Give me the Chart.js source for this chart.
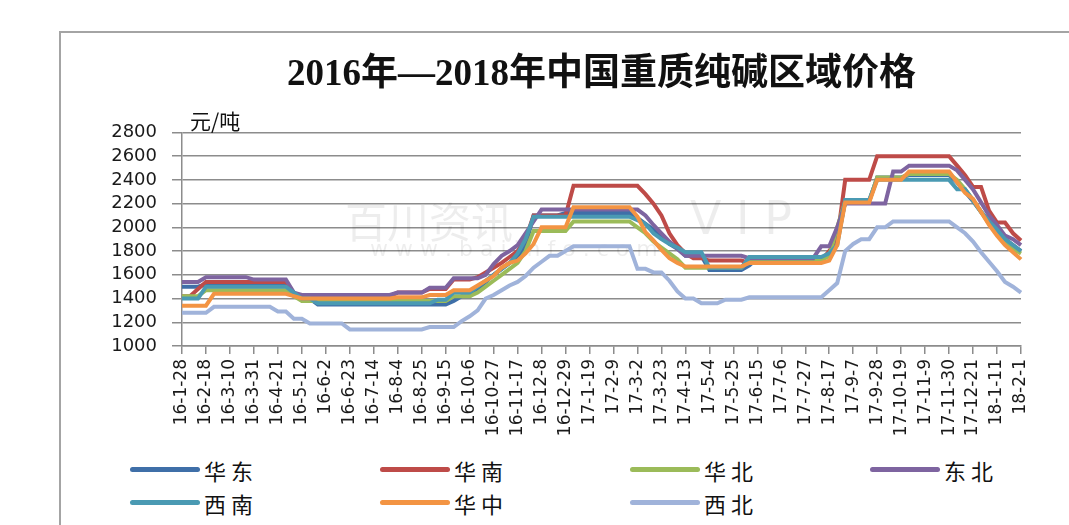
<!DOCTYPE html>
<html>
<head>
<meta charset="utf-8">
<script src="https://cdn.jsdelivr.net/npm/chart.js@4.4.0/dist/chart.umd.min.js"></script>
<style>
  html, body { margin: 0; padding: 0; background: #fff; }
  body { width: 1069px; height: 525px; position: relative; overflow: hidden; }
  .frame {
    position: absolute; left: 59px; top: 31px; width: 1020px; height: 500px;
    border-top: 2px solid #a4a4a4; border-left: 2px solid #a4a4a4;
  }
  #chart { position: absolute; left: 0; top: 0; }
  #legend {
    position: absolute; left: 130px; top: 456px;
    display: grid; grid-template-columns: 250px 250px 240px 200px; row-gap: 6px;
    font-family: "Noto Sans CJK SC", sans-serif; font-size: 22px; color: #111;
  }
  .item { display: flex; align-items: center; height: 27px; }
  .swatch { width: 70px; height: 5px; border-radius: 3px; margin-right: 4px; }
  .label { letter-spacing: 5px; }
</style>
</head>
<body>
<div class="frame"></div>
<canvas id="chart" width="1069" height="445"></canvas>
<div id="legend"></div>
<script>
// weekly prices, 16-1-28 .. 18-2-1 (元/吨)
const tickLabels = ['16-1-28', '16-2-18', '16-3-10', '16-3-31', '16-4-21', '16-5-12', '16-6-2', '16-6-23',
    '16-7-14', '16-8-4', '16-8-25', '16-9-15', '16-10-6', '16-10-27', '16-11-17', '16-12-8', '16-12-29',
    '17-1-19', '17-2-9', '17-3-2', '17-3-23', '17-4-13', '17-5-4', '17-5-25', '17-6-15', '17-7-6',
    '17-7-27', '17-8-17', '17-9-7', '17-9-28', '17-10-19', '17-11-9', '17-11-30', '17-12-21', '18-1-11', '18-2-1'];

const seriesNames = ['华东', '华南', '华北', '东北', '西南', '华中', '西北'];
const seriesColors = ['#3F6FA8', '#BE4B48', '#9BBB59', '#7E64A0', '#4A9AB3', '#F39443', '#A0B3DA'];

const huadong = [
    1500, 1500, 1500, 1520, 1520, 1520, 1520, 1520, 1520, 1520,
    1520, 1520, 1520, 1520, 1450, 1400, 1400, 1350, 1350, 1350,
    1350, 1350, 1350, 1350, 1350, 1350, 1350, 1350, 1350, 1350,
    1350, 1350, 1350, 1350, 1380, 1420, 1420, 1480, 1540, 1600,
    1650, 1700, 1750, 1850, 2100, 2100, 2100, 2100, 2120, 2120,
    2120, 2120, 2120, 2120, 2120, 2120, 2120, 2080, 2030, 1980,
    1930, 1860, 1820, 1760, 1760, 1760, 1640, 1640, 1640, 1640,
    1640, 1680, 1740, 1740, 1740, 1740, 1740, 1740, 1740, 1740,
    1740, 1780, 1880, 2220, 2220, 2220, 2220, 2420, 2420, 2420,
    2420, 2440, 2440, 2440, 2440, 2440, 2440, 2380, 2300, 2220,
    2130, 2050, 1980, 1900, 1850, 1800];

const huanan = [
    1420, 1420, 1480, 1540, 1540, 1540, 1540, 1540, 1540, 1540,
    1540, 1540, 1540, 1540, 1440, 1420, 1420, 1420, 1420, 1420,
    1420, 1420, 1420, 1420, 1420, 1420, 1420, 1450, 1450, 1450,
    1450, 1480, 1480, 1480, 1560, 1560, 1560, 1580, 1620, 1660,
    1700, 1750, 1800, 1900, 2100, 2100, 2100, 2100, 2100, 2350,
    2350, 2350, 2350, 2350, 2350, 2350, 2350, 2350, 2280, 2200,
    2100, 1950, 1850, 1780, 1740, 1740, 1720, 1720, 1720, 1720,
    1720, 1700, 1720, 1720, 1720, 1720, 1720, 1720, 1720, 1720,
    1720, 1800, 1900, 2400, 2400, 2400, 2400, 2600, 2600, 2600,
    2600, 2600, 2600, 2600, 2600, 2600, 2600, 2520, 2440, 2340,
    2340, 2140, 2040, 2040, 1950, 1890];

const huabei = [
    1420, 1420, 1420, 1470, 1470, 1470, 1470, 1470, 1470, 1470,
    1470, 1470, 1470, 1470, 1420, 1380, 1380, 1380, 1380, 1380,
    1380, 1380, 1380, 1380, 1380, 1380, 1380, 1380, 1380, 1380,
    1380, 1380, 1380, 1380, 1420, 1420, 1420, 1450, 1500, 1550,
    1600, 1650, 1700, 1800, 1970, 1970, 1970, 1970, 1970, 2050,
    2050, 2050, 2050, 2050, 2050, 2050, 2050, 2000, 1950, 1880,
    1830, 1780, 1730, 1660, 1660, 1660, 1660, 1660, 1660, 1660,
    1660, 1720, 1720, 1720, 1720, 1720, 1720, 1720, 1720, 1720,
    1720, 1760, 2000, 2220, 2220, 2220, 2220, 2420, 2420, 2420,
    2420, 2450, 2450, 2450, 2450, 2450, 2450, 2400, 2320, 2230,
    2130, 2030, 1950, 1880, 1820, 1780];

const dongbei = [
    1540, 1540, 1540, 1580, 1580, 1580, 1580, 1580, 1580, 1560,
    1560, 1560, 1560, 1560, 1450, 1430, 1430, 1430, 1430, 1430,
    1430, 1430, 1430, 1430, 1430, 1430, 1430, 1450, 1450, 1450,
    1450, 1490, 1490, 1490, 1570, 1570, 1570, 1570, 1600, 1690,
    1760, 1800, 1850, 1950, 2050, 2150, 2150, 2150, 2150, 2150,
    2150, 2150, 2150, 2150, 2150, 2150, 2150, 2150, 2100, 2020,
    1950, 1880, 1820, 1760, 1760, 1760, 1760, 1760, 1760, 1760,
    1760, 1740, 1740, 1740, 1740, 1740, 1740, 1740, 1740, 1740,
    1840, 1840, 2000, 2200, 2200, 2200, 2200, 2200, 2200, 2470,
    2470, 2520, 2520, 2520, 2520, 2520, 2520, 2480, 2400, 2320,
    2210, 2100, 2020, 1930, 1900, 1850];

const xinan = [
    1400, 1400, 1400, 1500, 1500, 1500, 1500, 1500, 1500, 1500,
    1500, 1500, 1500, 1500, 1450, 1400, 1400, 1360, 1360, 1360,
    1360, 1360, 1360, 1360, 1360, 1360, 1360, 1360, 1360, 1360,
    1360, 1360, 1390, 1390, 1450, 1450, 1450, 1500, 1550, 1600,
    1650, 1700, 1780, 1900, 2090, 2090, 2090, 2090, 2090, 2090,
    2090, 2090, 2090, 2090, 2090, 2090, 2090, 2060, 2030, 1950,
    1900, 1860, 1830, 1790, 1790, 1790, 1660, 1660, 1660, 1660,
    1660, 1750, 1750, 1750, 1750, 1750, 1750, 1750, 1750, 1750,
    1750, 1780, 1850, 2230, 2230, 2230, 2230, 2400, 2400, 2400,
    2400, 2400, 2400, 2400, 2400, 2400, 2400, 2320, 2320, 2230,
    2130, 2050, 1980, 1900, 1850, 1800];

const huazhong = [
    1340, 1340, 1340, 1340, 1440, 1440, 1440, 1440, 1440, 1440,
    1440, 1440, 1440, 1440, 1420, 1400, 1400, 1400, 1400, 1400,
    1400, 1400, 1400, 1400, 1400, 1400, 1400, 1410, 1410, 1410,
    1410, 1430, 1430, 1430, 1470, 1470, 1470, 1510, 1550, 1590,
    1660, 1700, 1720, 1780, 1860, 2000, 2000, 2000, 2000, 2170,
    2170, 2170, 2170, 2170, 2170, 2170, 2170, 2090, 1960, 1890,
    1810, 1740, 1700, 1670, 1670, 1670, 1670, 1670, 1670, 1670,
    1670, 1700, 1700, 1700, 1700, 1700, 1700, 1700, 1700, 1700,
    1700, 1720, 1850, 2210, 2210, 2210, 2210, 2400, 2400, 2400,
    2400, 2470, 2470, 2470, 2470, 2470, 2470, 2380, 2290, 2240,
    2130, 2020, 1930, 1850, 1790, 1730];

const xibei = [
    1280, 1280, 1280, 1280, 1330, 1330, 1330, 1330, 1330, 1330,
    1330, 1330, 1290, 1290, 1230, 1230, 1190, 1190, 1190, 1190,
    1190, 1140, 1140, 1140, 1140, 1140, 1140, 1140, 1140, 1140,
    1140, 1160, 1160, 1160, 1160, 1210, 1250, 1300, 1400, 1430,
    1470, 1510, 1540, 1590, 1660, 1710, 1760, 1760, 1800, 1840,
    1840, 1840, 1840, 1840, 1840, 1840, 1840, 1650, 1650, 1620,
    1620, 1550, 1460, 1400, 1400, 1360, 1360, 1360, 1390, 1390,
    1390, 1410, 1410, 1410, 1410, 1410, 1410, 1410, 1410, 1410,
    1410, 1470, 1530, 1800, 1860, 1900, 1900, 2000, 2000, 2050,
    2050, 2050, 2050, 2050, 2050, 2050, 2050, 2000, 1950, 1880,
    1790, 1710, 1630, 1540, 1500, 1450];

const seriesData = [huadong, huanan, huabei, dongbei, xinan, huazhong, xibei];

// one category per week, starting 2016-1-28
const categories = [];
for (let i = 0; i < huadong.length; i++) {
    const d = new Date(2016, 0, 28 + 7 * i);
    categories.push((d.getFullYear() % 100) + '-' + (d.getMonth() + 1) + '-' + d.getDate());
}

// faint watermark and the unit label above the y axis
const extrasPlugin = {
    id: 'extras',
    beforeDatasetsDraw(chart) {
        const ctx = chart.ctx;
        ctx.save();
        ctx.fillStyle = 'rgba(0,0,0,0.07)';
        ctx.textBaseline = 'middle';
        ctx.font = '42px "Noto Sans CJK SC"';
        ctx.fillText('百川资讯', 345, 222);
        ctx.font = '46px "DejaVu Sans"';
        ctx.fillText('V I P', 690, 222);
        ctx.font = '22px "DejaVu Sans"';
        ctx.fillText('w w w . b a i i n f o . c o m', 370, 250);
        ctx.restore();
    },
    afterDraw(chart) {
        const ctx = chart.ctx;
        ctx.save();
        ctx.fillStyle = '#111';
        ctx.font = '21px "Noto Sans CJK SC"';
        ctx.textBaseline = 'bottom';
        ctx.fillText('元/吨', chart.chartArea.left + 8, chart.chartArea.top - 1);
        ctx.restore();
    }
};

const chart = new Chart(document.getElementById('chart').getContext('2d'), {
    type: 'line',
    data: {
        labels: categories,
        datasets: seriesNames.map((name, i) => ({
            label: name,
            data: seriesData[i],
            borderColor: seriesColors[i],
            backgroundColor: seriesColors[i],
            borderWidth: 4,
            pointRadius: 0,
            tension: 0,
            fill: false,
            order: seriesNames.length - i
        }))
    },
    options: {
        responsive: false,
        animation: false,
        layout: { padding: { left: 0, right: 48, top: 0, bottom: 0 } },
        plugins: {
            title: {
                display: true,
                fullSize: false,   // centre over the plot area like the original
                text: '2016年—2018年中国重质纯碱区域价格',
                color: '#111',
                font: { family: '"Liberation Serif", "Noto Sans CJK SC"', size: 37, weight: 'bold' },
                padding: { top: 53, bottom: 35 }
            },
            legend: { display: false },
            tooltip: { enabled: false }
        },
        scales: {
            x: {
                afterFit: function(scale) { scale.height = 99; },
                grid: {
                    drawOnChartArea: false,
                    tickLength: 8,
                    lineWidth: 1.5,
                    color: ctx => ctx.index % 3 === 0 ? '#8c8c8c' : 'rgba(0,0,0,0)'
                },
                border: { color: '#8c8c8c', width: 1.5 },
                ticks: {
                    autoSkip: false,
                    minRotation: 90,
                    maxRotation: 90,
                    padding: 5,
                    color: '#1a1a1a',
                    font: { family: 'DejaVu Sans', size: 17 },
                    callback: (value, index) => index % 3 === 0 ? tickLabels[index / 3] : ''
                }
            },
            y: {
                min: 1000,
                max: 2800,
                afterFit: function(scale) { scale.width = 182; },
                grid: { color: '#8c8c8c', lineWidth: 1.5, tickLength: 10 },
                border: { color: '#8c8c8c', width: 1.5 },
                ticks: {
                    stepSize: 200,
                    autoSkip: false,
                    padding: 15,
                    color: '#1a1a1a',
                    font: { family: 'DejaVu Sans', size: 18, lineHeight: 1 },
                    callback: value => String(value)
                }
            }
        }
    },
    plugins: [extrasPlugin]
});

// legend laid out as in the original: four columns, two rows
const legendBox = document.getElementById('legend');
chart.data.datasets.forEach(ds => {
    const item = document.createElement('div');
    item.className = 'item';
    const swatch = document.createElement('span');
    swatch.className = 'swatch';
    swatch.style.background = ds.borderColor;
    const label = document.createElement('span');
    label.className = 'label';
    label.textContent = ds.label;
    item.appendChild(swatch);
    item.appendChild(label);
    legendBox.appendChild(item);
});
</script>
</body>
</html>
